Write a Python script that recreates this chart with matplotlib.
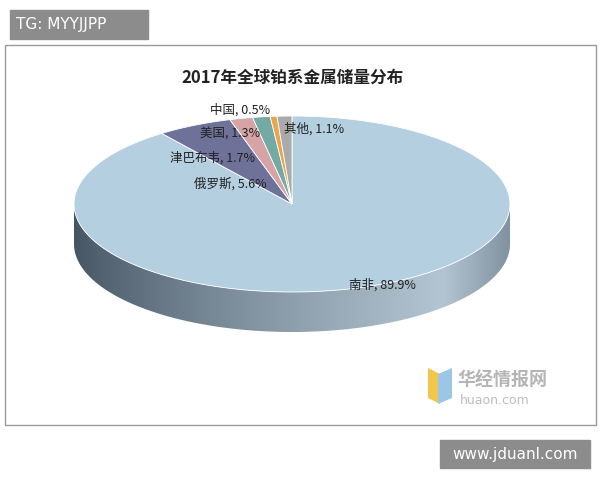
import numpy as np
import matplotlib
matplotlib.use("Agg")
import matplotlib.pyplot as plt
from matplotlib.patches import Polygon, Rectangle

plt.rcParams['font.family'] = ['Noto Sans CJK SC', 'DejaVu Sans']

categories = ['南非', '俄罗斯', '津巴布韦', '美国', '中国', '其他']
values = [89.9, 5.6, 1.7, 1.3, 0.5, 1.1]
colors = ['#b4cfdf', '#6e7198', '#d6a3a6', '#74aaa4', '#e9a64f', '#a9aaa9']
label_pos = [(382, 285), (230, 184), (213, 158), (230, 134), (240, 110), (314, 129)]
title = '2017年全球铂系金属储量分布'

fig = plt.figure(figsize=(6, 4.8), dpi=100)
ax = fig.add_axes([0, 0, 1, 1])
ax.set_xlim(0, 600); ax.set_ylim(480, 0); ax.axis('off')

ax.add_patch(Rectangle((5, 45), 591, 380, fill=False, ec='#9a9a9a', lw=1))
ax.add_patch(Rectangle((10, 10), 138, 29, color='#8c8c8c'))
ax.text(16, 24.5, 'TG: MYYJJPP', color='white', fontsize=11, va='center', family='DejaVu Sans')
ax.add_patch(Rectangle((440, 440), 150, 28, color='#8c8c8c'))
ax.text(515, 454, 'www.jduanl.com', color='white', fontsize=11, va='center', ha='center', family='DejaVu Sans')

ax.text(292, 78, title, fontsize=12, fontweight='bold', ha='center', va='center', color='#222222')

cx, cy, rx, ry, depth = 292, 204, 218, 88, 40

def pt(t):
    return cx + rx * np.sin(t), cy - ry * np.cos(t)

ts = np.linspace(np.pi / 2, 3 * np.pi / 2, 200)
top = np.array([pt(t) for t in ts])
bot = top + np.array([0, depth])
side = np.vstack([top, bot[::-1]])
sp = Polygon(side, closed=True, fc='none', ec='none')
ax.add_patch(sp)
g = np.linspace(0, 1, 256)
shade = np.clip(g ** 0.8 * 1.15, 0, 1) * (1 - 0.45 * np.clip((g - 0.85) / 0.15, 0, 1))
c0 = np.array([0.27, 0.33, 0.39]); c1 = np.array([0.70, 0.77, 0.82])
img = (c0[None, :] + (c1 - c0)[None, :] * shade[:, None])[None, :, :]
im = ax.imshow(img, extent=(cx - rx, cx + rx, cy + ry + depth, cy - 5), aspect='auto', zorder=1)
im.set_clip_path(sp)

fr = np.array(values) / sum(values)
start = 0.0
for v, val, c, lab, (lx, ly) in zip(fr, values, colors, categories, label_pos):
    end = start + v * 2 * np.pi
    tt = np.linspace(start, end, max(3, int(v * 400)))
    poly = [(cx, cy)] + [pt(t) for t in tt]
    ax.add_patch(Polygon(poly, closed=True, fc=c, ec='white', lw=0.6, zorder=2))
    ax.text(lx, ly, f'{lab}, {val}%', fontsize=9, ha='center', va='center', color='#222222', zorder=3)
    start = end

ax.add_patch(Polygon([(428, 368), (440, 374), (440, 404), (428, 398)], fc='#f3c54a', ec='none'))
ax.add_patch(Polygon([(438, 374), (452, 368), (452, 398), (438, 404)], fc='#9cc6e6', ec='none'))
ax.text(458, 380, '华经情报网', fontsize=13, fontweight='bold', color='#b5b5b5', va='center')
ax.text(460, 400, 'huaon.com', fontsize=9, color='#bdbdbd', va='center', family='DejaVu Sans')

fig.savefig('out.png', dpi=100, facecolor='white')
